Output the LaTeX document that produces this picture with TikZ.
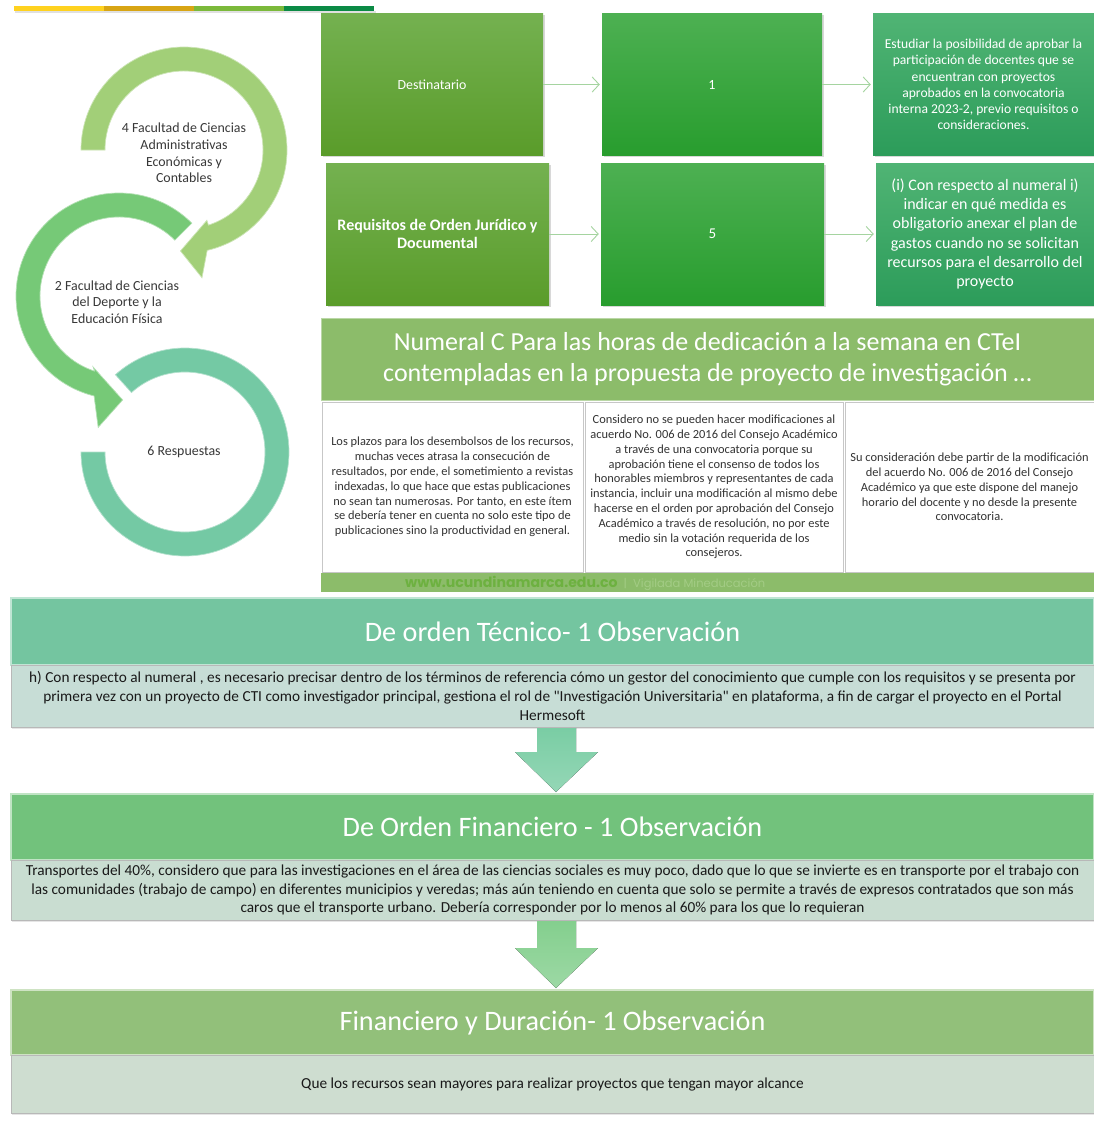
\documentclass[tikz,border=0pt]{standalone}
\usepackage{fontspec}
\setmainfont{Carlito}[Ligatures=TeXOff]
\newfontfamily\gothic{Poppins}
\usetikzlibrary{arrows.meta,shadows,calc}
\definecolor{barY}{HTML}{FFD21F}
\definecolor{barO}{HTML}{D8A514}
\definecolor{barG}{HTML}{7BB93A}
\definecolor{barD}{HTML}{0B8A45}
\definecolor{aTop}{HTML}{74B150}
\definecolor{aBot}{HTML}{5A9C2A}
\definecolor{bTop}{HTML}{4DB052}
\definecolor{bBot}{HTML}{289D2E}
\definecolor{cTop}{HTML}{50B474}
\definecolor{cBot}{HTML}{2C9C5A}
\definecolor{connC}{HTML}{A5D4A0}
\definecolor{numC}{HTML}{8CBC6A}
\definecolor{footW}{HTML}{6DB140}
\definecolor{footV}{HTML}{A3CC85}
\definecolor{hA}{HTML}{74C5A0}
\definecolor{hB}{HTML}{72C27C}
\definecolor{hC}{HTML}{92C07A}
\definecolor{bA}{HTML}{C7DDD6}
\definecolor{bB}{HTML}{C9DDD1}
\definecolor{bC}{HTML}{CEDDD0}
\definecolor{arrA}{HTML}{7ACDA4}
\definecolor{arrB}{HTML}{84CF8E}
\definecolor{ringA}{HTML}{A2CF78}
\definecolor{ringB}{HTML}{76C977}
\definecolor{ringC}{HTML}{74C9A4}
\definecolor{txt}{HTML}{333333}
\begin{document}
\begin{tikzpicture}[x=1pt,y=-1pt,
  gbox/.style={rectangle,inner sep=0pt,text=white,align=center,
    drop shadow={opacity=0.3,shadow xshift=1.5pt,shadow yshift=-1.5pt}},
  conn/.style={draw=connC,line width=0.9pt,-{Straight Barb[length=7pt,width=15pt]}},
  wbox/.style={rectangle,fill=white,draw=black!22,inner sep=0pt,align=center,text=txt,
    font=\fontsize{12.4}{14.8}\selectfont},
  hdr/.style={rectangle,inner sep=0pt,text=white,font=\fontsize{28.2}{32}\selectfont,line width=1.2pt},
  bodybox/.style={rectangle,inner sep=0pt,draw=black!28,align=center,text=black!90,
    font=\fontsize{15.3}{18.6}\selectfont,
    drop shadow={opacity=0.2,shadow xshift=1pt,shadow yshift=-1.5pt}},
  ctext/.style={align=center,text=black!78,font=\fontsize{13.9}{16.7}\selectfont},
  ringstyle/.style={line width=0.7pt}
]
\useasboundingbox (0,0) rectangle (1094,1121);
\fill[white] (0,0) rectangle (1094,1121);

% top colour bar
\fill[black!12] (15,11) rectangle (376,13.5);
\fill[barY] (14,6) rectangle (104,11);
\fill[barO] (104,6) rectangle (194,11);
\fill[barG] (194,6) rectangle (284,11);
\fill[barD] (284,6) rectangle (374,11);

% circular arrows
\coordinate (C1) at (184,150);
\coordinate (C2) at (119,296);
\coordinate (C3) at (185,452);
\filldraw[ringstyle,fill=ringC,draw=ringC!55!white]
  ($(C3)+(180:104)$) arc[start angle=180,end angle=-132,radius=104]
  -- ($(C3)+(-132:80)$) arc[start angle=-132,end angle=180,radius=80] -- cycle;
\filldraw[ringstyle,fill=ringB,draw=ringB!55!white]
  ($(C2)+(-45:103)$) arc[start angle=-45,end angle=-256,radius=103]
  -- ($(C2)+(-261:133)$) -- ($(C2)+(-272:104)$) -- ($(C2)+(-250:75.6)$)
  -- ($(C2)+(-252:79)$) arc[start angle=-252,end angle=-45,radius=79] -- cycle;
\filldraw[ringstyle,fill=ringA,draw=ringA!55!white]
  ($(C1)+(180:103)$) arc[start angle=180,end angle=437,radius=103]
  -- ($(C1)+(82:129)$) -- ($(C1)+(92:101)$) -- ($(C1)+(72:74)$)
  -- ($(C1)+(432:79)$) arc[start angle=432,end angle=180,radius=79] -- cycle;

\node[ctext] (t1) at (184,153) {4 Facultad de Ciencias\\Administrativas\\Económicas y\\Contables};
\node[ctext] (t2) at (117,302) {2 Facultad de Ciencias\\del Deporte y la\\Educación Física};
\node[ctext] (t3) at (184,452) {6 Respuestas};

% top boxes
\node[gbox,top color=aTop,bottom color=aBot,minimum width=222pt,minimum height=141pt,
  font=\fontsize{13.9}{16}\selectfont] (A) at (432,84.5) {Destinatario};
\node[gbox,top color=bTop,bottom color=bBot,minimum width=220pt,minimum height=141pt,
  font=\fontsize{14}{16}\selectfont] (B) at (712,84.5) {1};
\node[gbox,top color=cTop,bottom color=cBot,minimum width=221pt,minimum height=141pt,
  font=\fontsize{13.6}{16.2}\selectfont] (C) at (983.5,84.5)
  {Estudiar la posibilidad de aprobar la\\participación de docentes que se\\encuentran con proyectos\\aprobados en la convocatoria\\interna 2023-2, previo requisitos o\\consideraciones.};
\node[gbox,top color=aTop,bottom color=aBot,minimum width=223pt,minimum height=142pt,
  font=\bfseries\fontsize{16}{18.5}\selectfont] (D) at (437.5,234) {Requisitos de Orden Jurídico y\\Documental};
\node[gbox,top color=bTop,bottom color=bBot,minimum width=223pt,minimum height=142pt,
  font=\fontsize{15}{17}\selectfont] (E) at (712.5,234) {5};
\node[gbox,top color=cTop,bottom color=cBot,minimum width=218pt,minimum height=142pt,
  font=\fontsize{16}{19.2}\selectfont] (F) at (985,234)
  {(i) Con respecto al numeral i)\\indicar en qué medida es\\obligatorio anexar el plan de\\gastos cuando no se solicitan\\recursos para el desarrollo del\\proyecto};
\draw[conn] (A.east) -- ([xshift=-2pt]B.west);
\draw[conn] (B.east) -- ([xshift=-2pt]C.west);
\draw[conn] (D.east) -- ([xshift=-2pt]E.west);
\draw[conn] (E.east) -- ([xshift=-2pt]F.west);

% Numeral C block
\node[rectangle,fill=numC,draw=numC!60!white,line width=1pt,minimum width=773pt,minimum height=82pt,
  inner sep=0pt,text=white,align=center,font=\fontsize{26}{31}\selectfont] (N) at (707.5,359)
  {Numeral C Para las horas de dedicación a la semana en CTeI\\contempladas en la propuesta de proyecto de investigación …};
\node[wbox,minimum width=261pt,minimum height=170pt] (W1) at (452.5,487)
  {Los plazos para los desembolsos de los recursos,\\muchas veces atrasa la consecución de\\resultados, por ende, el sometimiento a revistas\\indexadas, lo que hace que estas publicaciones\\no sean tan numerosas. Por tanto, en este ítem\\se debería tener en cuenta no solo este tipo de\\publicaciones sino la productividad en general.};
\node[wbox,minimum width=258pt,minimum height=170pt] (W2) at (714,487)
  {Considero no se pueden hacer modificaciones al\\acuerdo No. 006 de 2016 del Consejo Académico\\a través de una convocatoria porque su\\aprobación tiene el consenso de todos los\\honorables miembros y representantes de cada\\instancia, incluir una modificación al mismo debe\\hacerse en el orden por aprobación del Consejo\\Académico a través de resolución, no por este\\medio sin la votación requerida de los\\consejeros.};
\node[wbox,minimum width=249pt,minimum height=170pt] (W3) at (969.5,487)
  {Su consideración debe partir de la modificación\\del acuerdo No. 006 de 2016 del Consejo\\Académico ya que este dispone del manejo\\horario del docente y no desde la presente\\convocatoria.};
\node[rectangle,fill=numC,minimum width=773pt,minimum height=19pt,inner sep=0pt] (foot) at (707.5,582.5) {};
\node[anchor=base west,inner sep=0pt] (ftxt) at (405,587)
  {\gothic\textcolor{footW}{\bfseries\fontsize{14.1}{15}\selectfont www.ucundinamarca.edu.co}\textcolor{footV}{\fontsize{11.5}{14}\selectfont\ \ |\ \ Vigilada Mineducación}};

% section 1
\node[hdr,fill=hA,draw=hA!45!white,minimum width=1083pt,minimum height=67pt] (H1) at (552.5,631.5)
  {De orden Técnico- 1 Observación};
\node[bodybox,fill=bA,minimum width=1083pt,minimum height=62pt] (B1) at (552.5,696)
  {h) Con respecto al numeral , es necesario precisar dentro de los términos de referencia cómo un gestor del conocimiento que cumple con los requisitos y se presenta por\\primera vez con un proyecto de CTI como investigador principal, gestiona el rol de "Investigación Universitaria" en plataforma, a fin de cargar el proyecto en el Portal\\Hermesoft};
\fill[top color=arrA,bottom color=arrA!80!white] (537,728) -- (576,728) -- (576,752) -- (598,752) -- (556,792) -- (515,752) -- (537,752) -- cycle;

% section 2
\node[hdr,fill=hB,draw=hB!45!white,minimum width=1083pt,minimum height=66pt] (H2) at (552.5,827)
  {De Orden Financiero - 1 Observación};
\node[bodybox,fill=bB,minimum width=1083pt,minimum height=60pt] (B2) at (552.5,890)
  {Transportes del 40\%, considero que para las investigaciones en el área de las ciencias sociales es muy poco, dado que lo que se invierte es en transporte por el trabajo con\\las comunidades (trabajo de campo) en diferentes municipios y veredas; más aún teniendo en cuenta que solo se permite a través de expresos contratados que son más\\caros que el transporte urbano. Debería corresponder por lo menos al 60\% para los que lo requieran};
\fill[top color=arrB,bottom color=arrB!80!white] (537,921) -- (576,921) -- (576,948) -- (598,948) -- (556,988) -- (515,948) -- (537,948) -- cycle;

% section 3
\node[hdr,fill=hC,draw=hC!45!white,minimum width=1083pt,minimum height=65pt] (H3) at (552.5,1022.5)
  {Financiero y Duración- 1 Observación};
\node[bodybox,fill=bC,minimum width=1083pt,minimum height=58pt] (B3) at (552.5,1084)
  {Que los recursos sean mayores para realizar proyectos que tengan mayor alcance};
\end{tikzpicture}
\end{document}
